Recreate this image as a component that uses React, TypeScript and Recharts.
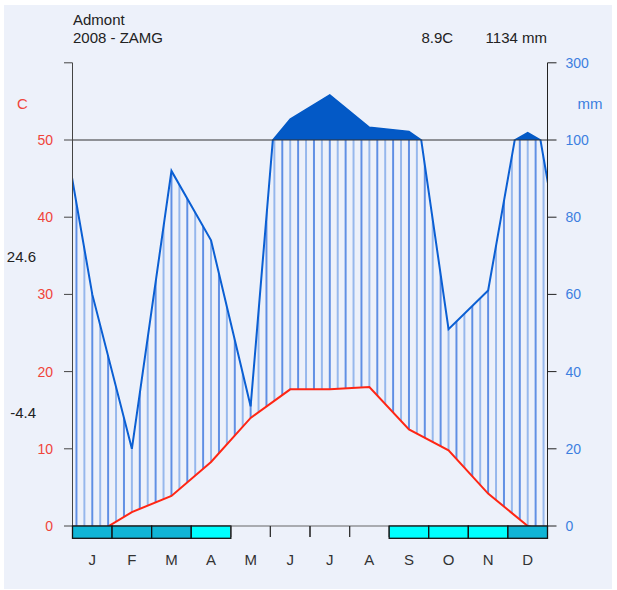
import React from 'react';
import {
  ComposedChart,
  Line,
  Area,
  XAxis,
  YAxis,
  ReferenceLine
} from 'recharts';

const months = ['J', 'F', 'M', 'A', 'M', 'J', 'J', 'A', 'S', 'O', 'N', 'D'];
const tempC = [-1.3, 1.8, 3.9, 8.3, 14.0, 17.7, 17.7, 18.0, 12.5, 9.8, 4.2, 0.0];
const precipMm = [60, 20, 92, 74, 31, 154, 217, 133, 122, 51, 61, 119];
// 2 = frost month, 1 = frost possible, 0 = frost-free
const frostBand = [2, 2, 2, 1, 0, 0, 0, 0, 1, 1, 1, 2];
const tempTicks = [0, 10, 20, 30, 40, 50, 60];
const precipTicks = [0, 20, 40, 60, 80, 100, 120];

const station = 'Admont';
const source = '2008 - ZAMG';
const warmMax = '24.6';
const coldMin = '-4.4';

const W = 617;
const H = 590;
const PLOT_L = 72.5;
const PLOT_R = 547.5;
const PLOT_T = 62.8;
const PLOT_B = 526;
const X_AXIS_H = 40;
const MONTH_W = (PLOT_R - PLOT_L) / 12;
const Y100 = PLOT_B - (50 / 60) * (PLOT_B - PLOT_T);

const RED = '#f0443a';
const BLUE_TXT = '#3c7fe0';
const LINE_BLUE = '#0b5fd3';
const CAP_BLUE = '#0359c6';

// one row per month plus a wrapped Dec / Jan on either side so the lines run to the edges
const rows = [];
for (let i = -1; i <= 12; i++) {
  const j = (i + 12) % 12;
  rows.push({ x: i + 0.5, t: tempC[j], p: precipMm[j], band: [tempC[j] * 2, precipMm[j]] });
}

const annualMean = (tempC.reduce((a, b) => a + b, 0) / 12).toFixed(1);
const annualSum = precipMm.reduce((a, b) => a + b, 0);

// mm axis: linear up to 100, compressed 10x above
const mmLabel = (v: number) => (v <= 100 ? v : 100 + (v - 100) * 10);

const MonthTick = (props: any) => {
  const { x, y, payload } = props;
  const i = Math.floor(payload.value);
  const half = MONTH_W / 2;
  const f = frostBand[i];
  return (
    <g>
      {f > 0 ? (
        <rect
          x={x - half}
          y={y}
          width={MONTH_W}
          height={12.3}
          fill={f === 2 ? '#10b5d6' : '#00ffff'}
          stroke="#111"
          strokeWidth={1.3}
        />
      ) : (
        <>
          <line x1={x - half} x2={x - half} y1={y} y2={y + 11} stroke="#333" strokeWidth={1.2} />
          <line x1={x + half} x2={x + half} y1={y} y2={y + 11} stroke="#333" strokeWidth={1.2} />
        </>
      )}
      <text x={x} y={y + 39} textAnchor="middle" fontSize={15} fill="#333">
        {months[i]}
      </text>
    </g>
  );
};

export default function App() {
  const step = 0.2 * MONTH_W;
  return (
    <div
      style={{
        position: 'relative',
        width: W,
        height: H,
        background: '#fff',
        fontFamily: '"Liberation Sans", Arial, sans-serif'
      }}
    >
      <style>{`
        body { margin: 0; }
        .clip-low { clip-path: url(#clip-low); }
        .clip-high { clip-path: url(#clip-high); }
      `}</style>
      <div style={{ position: 'absolute', left: 4, top: 5, width: 608, height: 584, background: '#edf1fa' }} />
      <svg width={W} height={H} style={{ position: 'absolute', left: 0, top: 0 }}>
        <defs>
          <clipPath id="clip-low" clipPathUnits="userSpaceOnUse">
            <rect x={PLOT_L} y={Y100} width={PLOT_R - PLOT_L} height={PLOT_B - Y100} />
          </clipPath>
          <clipPath id="clip-high" clipPathUnits="userSpaceOnUse">
            <rect x={PLOT_L} y={0} width={PLOT_R - PLOT_L} height={Y100} />
          </clipPath>
          <pattern
            id="hatch"
            patternUnits="userSpaceOnUse"
            x={PLOT_L + 0.1 * MONTH_W - 1}
            y={0}
            width={2 * step}
            height={8}
          >
            <rect x={0.4} y={0} width={1.2} height={8} fill="#0651d6" />
            <rect x={0.4 + step} y={0} width={1.2} height={8} fill="#5e93e4" />
          </pattern>
        </defs>
      </svg>
      <div style={{ position: 'absolute', left: 0, top: 0 }}>
        <ComposedChart
          width={W}
          height={H}
          data={rows}
          margin={{ top: PLOT_T, right: 0, bottom: H - PLOT_B - X_AXIS_H, left: 0 }}
        >
          <XAxis
            type="number"
            dataKey="x"
            domain={[0, 12]}
            allowDataOverflow
            ticks={months.map((_, i) => i + 0.5)}
            interval={0}
            height={X_AXIS_H}
            axisLine={false}
            tickLine={false}
            tickSize={0}
            tickMargin={0}
            tick={<MonthTick />}
          />
          <YAxis
            yAxisId="t"
            orientation="left"
            width={PLOT_L}
            domain={[0, 60]}
            allowDataOverflow
            ticks={tempTicks}
            interval={0}
            tickSize={8.5}
            tickMargin={11}
            stroke="#444"
            tick={{ fill: RED, fontSize: 14 }}
            tickFormatter={(v: number) => (v === 60 ? '' : String(v))}
          />
          <YAxis
            yAxisId="pl"
            orientation="right"
            width={W - PLOT_R}
            domain={[0, 120]}
            allowDataOverflow
            ticks={precipTicks}
            interval={0}
            tickSize={9}
            tickMargin={9}
            stroke="#222"
            tick={{ fill: BLUE_TXT, fontSize: 14 }}
            tickFormatter={(v: number) => String(mmLabel(v))}
          />
          <YAxis yAxisId="ph" orientation="right" hide width={0} domain={[-900, 300]} allowDataOverflow />

          <Area
            yAxisId="pl"
            dataKey="band"
            type="linear"
            fill="url(#hatch)"
            fillOpacity={1}
            stroke="none"
            className="clip-low"
            isAnimationActive={false}
            activeDot={false}
          />
          <Area
            yAxisId="ph"
            dataKey="p"
            type="linear"
            baseValue={100}
            fill={CAP_BLUE}
            fillOpacity={1}
            stroke="none"
            className="clip-high"
            isAnimationActive={false}
            activeDot={false}
          />
          <Line
            yAxisId="pl"
            dataKey="p"
            type="linear"
            stroke={LINE_BLUE}
            strokeWidth={2}
            dot={false}
            activeDot={false}
            className="clip-low"
            isAnimationActive={false}
          />
          <Line
            yAxisId="ph"
            dataKey="p"
            type="linear"
            stroke={CAP_BLUE}
            strokeWidth={1.5}
            dot={false}
            activeDot={false}
            className="clip-high"
            isAnimationActive={false}
          />
          <Line
            yAxisId="t"
            dataKey="t"
            type="linear"
            stroke="#ff2614"
            strokeWidth={2}
            dot={false}
            activeDot={false}
            className="clip-low"
            isAnimationActive={false}
          />
          <ReferenceLine yAxisId="t" y={0} stroke="#666" strokeWidth={1.2} />
          <ReferenceLine yAxisId="t" y={50} stroke="#333" strokeWidth={1.2} />
        </ComposedChart>
      </div>
      <svg width={W} height={H} style={{ position: 'absolute', left: 0, top: 0, pointerEvents: 'none' }}>
        <g fontSize={15} fill="#222">
          <text x={73} y={25}>{station}</text>
          <text x={73} y={43}>{source}</text>
          <text x={421.5} y={43}>{annualMean}C</text>
          <text x={547} y={43} textAnchor="end">{annualSum} mm</text>
          <text x={36} y={262} textAnchor="end">{warmMax}</text>
          <text x={36} y={418} textAnchor="end">{coldMin}</text>
        </g>
        <text x={17} y={109} fontSize={15} fill={RED}>C</text>
        <text x={577.5} y={109} fontSize={15} fill={BLUE_TXT}>mm</text>
      </svg>
    </div>
  );
}
